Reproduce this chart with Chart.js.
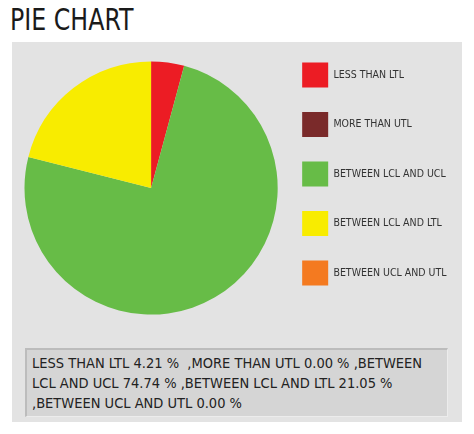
<!DOCTYPE html>
<html>
<head>
<meta charset="utf-8">
<script src="https://cdn.jsdelivr.net/npm/chart.js@4"></script>
<style>
  body { margin: 0; background: #fff; width: 474px; height: 434px; overflow: hidden; font-family: "DejaVu Sans Condensed", "DejaVu Sans", sans-serif; }
  #title { position: absolute; left: 10px; top: 1px; font-size: 31px; color: #1a1a1a; transform: scaleX(0.85); transform-origin: left top; white-space: nowrap; }
  #panel { position: absolute; left: 12px; top: 42px; width: 450px; height: 380px; background: #e3e3e3; }
  #wrap { position: absolute; left: 12px; top: 38px; width: 450px; height: 300px; }
  #summary { position: absolute; left: 25px; top: 348px; width: 409px; height: 63px; padding: 3px 6px 0 5px;
    background: #d5d5d5; border-top: 2px solid #bcbcbc; border-left: 2px solid #bcbcbc; border-right: 1px solid #ececec; border-bottom: 1px solid #ececec;
    font-size: 14.5px; line-height: 20px; color: #222; white-space: pre-wrap; }
</style>
</head>
<body>
<div id="title">PIE CHART</div>
<div id="panel"></div>
<div id="wrap"><canvas id="chart" width="450" height="300"></canvas></div>
<div id="summary"></div>
<script>
  // pie slices, in drawing order (clockwise from 12 o'clock)
  const labels = ['LESS THAN LTL', 'MORE THAN UTL', 'BETWEEN LCL AND UCL', 'BETWEEN LCL AND LTL', 'BETWEEN UCL AND UTL'];
  const percents = [4.21, 0.00, 74.74, 21.05, 0.00];
  const colors = ['#ec1c24', '#7a2a2a', '#67bc47', '#f8ec00', '#f47a20'];

  // summary text under the chart
  const parts = labels.map((l, i) => l + ' ' + percents[i].toFixed(2) + ' %');
  document.getElementById('summary').textContent = parts[0] + '  ,' + parts.slice(1).join(' ,');

  const ctx = document.getElementById('chart').getContext('2d');
  new Chart(ctx, {
    type: 'pie',
    data: {
      labels: labels,
      datasets: [{
        data: percents,
        backgroundColor: colors,
        borderWidth: 0
      }]
    },
    options: {
      responsive: false,
      animation: false,
      events: [],
      layout: { padding: { left: 12.5, right: 5.5, top: 0, bottom: 0 } },
      plugins: {
        tooltip: { enabled: false },
        legend: {
          position: 'right',
          align: 'start',
          labels: {
            boxWidth: 26,
            boxHeight: 25,
            padding: 24.5,
            color: '#333',
            font: { family: '"DejaVu Sans Condensed", "DejaVu Sans", sans-serif', size: 10.5 }
          }
        }
      }
    }
  });
</script>
</body>
</html>
